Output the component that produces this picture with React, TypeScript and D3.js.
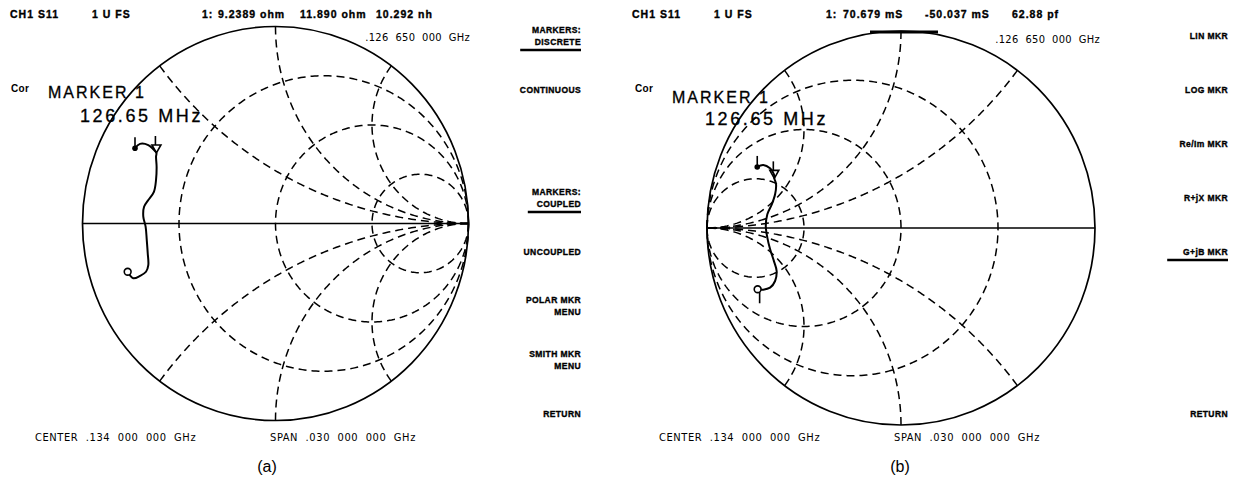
import React from 'react';
import * as d3 from 'd3';

const W = 1234;
const H = 482;

// smith grid (normalized impedance / admittance)
const resistanceCircles = [1 / 3, 1, 3];
const reactanceArcs = [0.5, 1, 2, -0.5, -1, -2];

const traceA: [number, number][] = [
  [-0.728, 0.382], [-0.702, 0.404], [-0.659, 0.398], [-0.633, 0.377], [-0.617, 0.358],
  [-0.619, 0.339], [-0.616, 0.288], [-0.619, 0.221], [-0.630, 0.161], [-0.659, 0.119],
  [-0.681, 0.085], [-0.685, 0.035], [-0.673, -0.016], [-0.667, -0.084], [-0.662, -0.151],
  [-0.659, -0.211], [-0.671, -0.245], [-0.702, -0.266], [-0.737, -0.278], [-0.766, -0.245],
];
const markerA: [number, number] = [-0.617, 0.358];

const traceB: [number, number][] = [
  [-0.741, 0.310], [-0.710, 0.320], [-0.675, 0.303], [-0.655, 0.273], [-0.653, 0.252],
  [-0.644, 0.222], [-0.649, 0.171], [-0.666, 0.120], [-0.689, 0.070], [-0.697, 0.010],
  [-0.689, -0.049], [-0.675, -0.107], [-0.655, -0.168], [-0.641, -0.218], [-0.649, -0.269],
  [-0.675, -0.303], [-0.710, -0.313], [-0.739, -0.311],
];
const markerB: [number, number] = [-0.653, 0.252];

const headerA = ['CH1 S11', '1 U FS', '1:', '9.2389 ohm', '11.890 ohm', '10.292 nh'];
const headerB = ['CH1 S11', '1 U FS', '1:', '70.679 mS', '-50.037 mS', '62.88 pf'];
const markerFreq = '.126  650  000  GHz';
const markerName = 'MARKER 1';
const markerMHz = '126.65 MHz';
const centerText = 'CENTER  .134  000  000  GHz';
const spanText = 'SPAN  .030  000  000  GHz';

const softkeysA = [
  ['MARKERS:', 'DISCRETE'], ['CONTINUOUS'], [], ['MARKERS:', 'COUPLED'],
  ['UNCOUPLED'], ['POLAR MKR', 'MENU'], ['SMITH MKR', 'MENU'], ['RETURN'],
];
const activeA = [0, 3];
const softkeysB = [
  ['LIN MKR'], ['LOG MKR'], ['Re/Im MKR'], ['R+jX MKR'], ['G+jB MKR'], [], [], ['RETURN'],
];
const activeB = [4];

const gamma = (r: number, x: number): [number, number] => {
  const den = (r + 1) * (r + 1) + x * x;
  return [(r * r + x * x - 1) / den, (2 * x) / den];
};

const thin = "'Liberation Sans Narrow', 'DejaVu Sans Condensed', sans-serif";
const bold = "'Liberation Sans', Arial, sans-serif";

type ChartProps = {
  cx: number; cy: number; rx: number; ry: number;
  admittance: boolean;
  trace: [number, number][];
  marker: [number, number];
  endStub: boolean;
};

const SmithChart: React.FC<ChartProps> = ({ cx, cy, rx, ry, admittance, trace, marker, endStub }) => {
  const x = d3.scaleLinear().domain([-1, 1]).range([cx - rx, cx + rx]);
  const y = d3.scaleLinear().domain([-1, 1]).range([cy + ry, cy - ry]);
  const flip = (p: [number, number]): [number, number] => (admittance ? [-p[0], -p[1]] : p);
  const line = d3.line<[number, number]>().x((d) => x(d[0])).y((d) => y(d[1]));
  const smooth = d3.line<[number, number]>().x((d) => x(d[0])).y((d) => y(d[1])).curve(d3.curveCatmullRom);

  const grid: string[] = [];
  resistanceCircles.forEach((r) => {
    const pts: [number, number][] = [[1, 0]];
    d3.range(-0.4995, 0.4996, 0.0025).forEach((u) => pts.push(gamma(r, Math.tan(u * Math.PI))));
    pts.push([1, 0]);
    grid.push(line(pts.map(flip)) || '');
  });
  reactanceArcs.forEach((xv) => {
    const pts: [number, number][] = [];
    d3.range(0, 0.4996, 0.0025).forEach((t) => pts.push(gamma(Math.tan(t * Math.PI), xv)));
    pts.push([1, 0]);
    grid.push(line(pts.map(flip)) || '');
  });

  const mx = x(marker[0]);
  const my = y(marker[1]);
  const s = trace[0];
  const e = trace[trace.length - 1];

  return (
    <g>
      <ellipse cx={x(0)} cy={y(0)} rx={x(1) - x(0)} ry={y(0) - y(1)} fill="none" stroke="#000" strokeWidth={1.7} />
      <line x1={x(-1)} x2={x(1)} y1={y(0)} y2={y(0)} stroke="#000" strokeWidth={1.7} />
      {grid.map((d, i) => (
        <path key={i} d={d} fill="none" stroke="#000" strokeWidth={1.5} strokeDasharray="8 5" />
      ))}
      <path d={smooth(trace) || ''} fill="none" stroke="#000" strokeWidth={2} />
      <line x1={x(s[0])} x2={x(s[0])} y1={y(s[1])} y2={y(s[1]) - 11} stroke="#000" strokeWidth={1.6} />
      <circle cx={x(s[0])} cy={y(s[1])} r={2.8} fill="#000" />
      <circle cx={x(e[0])} cy={y(e[1])} r={3.4} fill="#fff" stroke="#000" strokeWidth={1.6} />
      {endStub && (
        <line x1={x(e[0]) + 2} x2={x(e[0]) + 2} y1={y(e[1]) + 3} y2={y(e[1]) + 14} stroke="#000" strokeWidth={1.6} />
      )}
      <path d={`M${mx},${my} L${mx - 4.5},${my - 8} L${mx + 4.5},${my - 8} Z`} fill="none" stroke="#000" strokeWidth={1.6} />
      <line x1={mx - 1} x2={mx - 1} y1={my - 8} y2={my - 17} stroke="#000" strokeWidth={1.6} />
    </g>
  );
};

type PanelProps = {
  dx: number;
  header: string[];
  headerX: number[];
  softkeys: string[][];
  active: number[];
  keyRight: number;
  caption: string;
  captionX: number;
};

const Panel: React.FC<PanelProps> = ({ dx, header, headerX, softkeys, active, keyRight, caption, captionX }) => {
  const slot = d3.scalePoint<number>().domain(d3.range(8)).range([36, 414]);
  return (
    <g>
      {header.map((t, i) => (
        <text key={i} x={headerX[i]} y={18} fontFamily={bold} fontWeight={900} fontSize={10.5}
          letterSpacing={1} stroke="#000" strokeWidth={0.35} style={{ whiteSpace: 'pre' }}>
          {t}
        </text>
      ))}
      {softkeys.map((lines, i) => {
        const yc = slot(i) as number;
        const y0 = yc - (lines.length - 1) * 6 + 3;
        const on = active.includes(i);
        return (
          <g key={i}>
            {lines.map((l, j) => (
              <text key={j} x={keyRight} y={y0 + j * 12} textAnchor="end" fontFamily={bold} fontWeight={900}
                fontSize={8.5} letterSpacing={0.4} stroke="#000" strokeWidth={0.35}>
                {l}
              </text>
            ))}
            {on && (
              <line x1={keyRight - lines[lines.length - 1].length * 7.6} x2={keyRight}
                y1={y0 + (lines.length - 1) * 12 + 5} y2={y0 + (lines.length - 1) * 12 + 5} stroke="#000" strokeWidth={2.6} />
            )}
          </g>
        );
      })}
      <text x={dx + 35} y={441} fontFamily={thin} fontWeight={300} fontSize={11} letterSpacing={0.6} style={{ whiteSpace: 'pre' }}>
        {centerText}
      </text>
      <text x={dx + 270} y={441} fontFamily={thin} fontWeight={300} fontSize={11} letterSpacing={0.6} style={{ whiteSpace: 'pre' }}>
        {spanText}
      </text>
      <text x={captionX} y={472} fontFamily={bold} fontSize={16} textAnchor="middle">
        {caption}
      </text>
      <text x={dx + 11} y={92} fontFamily={bold} fontWeight={700} fontSize={10} letterSpacing={0.3}>
        Cor
      </text>
    </g>
  );
};

export default function App() {
  return (
    <svg width={W} height={H} style={{ position: 'absolute', left: 0, top: 0, background: '#fff' }}>
      <rect width={W} height={H} fill="#fff" />
      <SmithChart cx={275.5} cy={223.5} rx={193} ry={197} admittance={false} trace={traceA} marker={markerA} endStub={false} />
      <SmithChart cx={901} cy={228} rx={194} ry={197} admittance={true} trace={traceB} marker={markerB} endStub={true} />
      <Panel dx={0} header={headerA} headerX={[10, 92, 202, 218, 300, 376]} softkeys={softkeysA} active={activeA}
        keyRight={581} caption="(a)" captionX={267} />
      <Panel dx={624} header={headerB} headerX={[632, 714, 826, 843, 925, 1012]} softkeys={softkeysB} active={activeB}
        keyRight={1228} caption="(b)" captionX={900} />

      <text x={470} y={41} textAnchor="end" fontFamily={thin} fontWeight={300} fontSize={11} letterSpacing={0.3} style={{ whiteSpace: 'pre' }}>
        {markerFreq}
      </text>
      <text x={1100} y={43} textAnchor="end" fontFamily={thin} fontWeight={300} fontSize={11} letterSpacing={0.3} style={{ whiteSpace: 'pre' }}>
        {markerFreq}
      </text>
      <line x1={870} x2={938} y1={32} y2={32} stroke="#000" strokeWidth={3} />

      <text x={48} y={98} fontFamily={bold} fontSize={16} letterSpacing={2} stroke="#000" strokeWidth={0.3}>{markerName}</text>
      <text x={80} y={122} fontFamily={bold} fontSize={18} letterSpacing={2.6} stroke="#000" strokeWidth={0.3} style={{ whiteSpace: 'pre' }}>{markerMHz}</text>
      <text x={672} y={103} fontFamily={bold} fontSize={16} letterSpacing={2} stroke="#000" strokeWidth={0.3}>{markerName}</text>
      <text x={705} y={125} fontFamily={bold} fontSize={18} letterSpacing={2.6} stroke="#000" strokeWidth={0.3} style={{ whiteSpace: 'pre' }}>{markerMHz}</text>
    </svg>
  );
}
